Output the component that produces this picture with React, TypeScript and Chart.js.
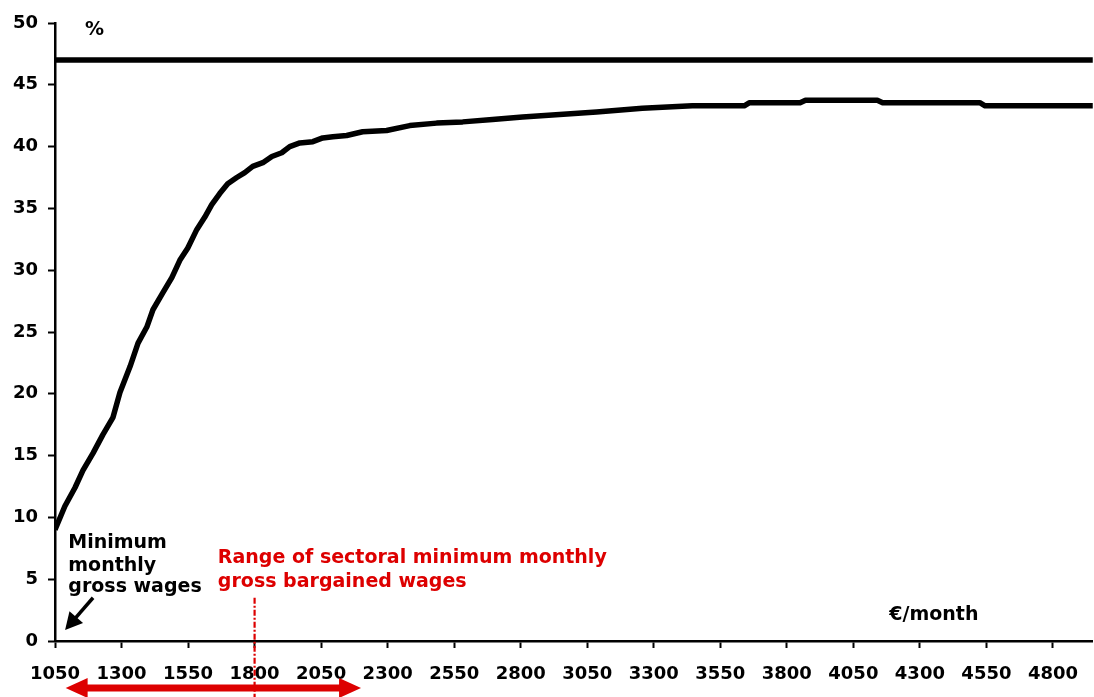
import React, { useEffect, useRef } from 'react';
import { Chart, registerables } from 'chart.js';

Chart.register(...registerables);

// Monthly gross wage (€/month)
const wages = [
  1050, 1087, 1125, 1155, 1193, 1230, 1268, 1294, 1332, 1362, 1395, 1418, 1456, 1489,
  1519, 1549, 1583, 1613, 1639, 1669, 1699, 1733, 1763, 1793, 1831, 1865, 1902, 1932,
  1970, 2019, 2056, 2094, 2146, 2206, 2296, 2383, 2484, 2582, 2694, 2807, 2946, 3085,
  3257, 3445, 3640, 3660, 3850, 3870, 4140, 4160, 4525, 4545, 4950,
];
// Share (%)
const shares = [
  9.0, 10.9, 12.4, 13.8, 15.2, 16.7, 18.1, 20.1, 22.2, 24.1, 25.4, 26.8, 28.2, 29.4,
  30.8, 31.8, 33.3, 34.3, 35.3, 36.2, 37.0, 37.5, 37.9, 38.4, 38.7, 39.2, 39.5, 40.0,
  40.3, 40.4, 40.7, 40.8, 40.9, 41.2, 41.3, 41.7, 41.9, 42.0, 42.2, 42.4, 42.6, 42.8,
  43.1, 43.3, 43.3, 43.55, 43.55, 43.75, 43.75, 43.55, 43.55, 43.3, 43.3,
];
// Horizontal reference level (%)
const referenceLevel = 47;

const xMin = 1050;
const xMax = 4950;
const xTickValues = [1050, 1300, 1550, 1800, 2050, 2300, 2550, 2800, 3050, 3300, 3550, 3800, 4050, 4300, 4550, 4800];
const yTickValues = [0, 5, 10, 15, 20, 25, 30, 35, 40, 45, 50];

// Annotation anchors (data units)
const minWage = 1050;
const sectoralMid = 1800;
const sectoralRange = [1090, 2200];

const FONT = '"DejaVu Sans", Verdana, sans-serif';
const RED = '#dd0000';

function arrowHead(ctx: CanvasRenderingContext2D, tx: number, ty: number, ang: number, len: number, half: number) {
  ctx.beginPath();
  ctx.moveTo(tx, ty);
  ctx.lineTo(tx - len * Math.cos(ang) + half * Math.sin(ang), ty - len * Math.sin(ang) - half * Math.cos(ang));
  ctx.lineTo(tx - len * Math.cos(ang) - half * Math.sin(ang), ty - len * Math.sin(ang) + half * Math.cos(ang));
  ctx.closePath();
  ctx.fill();
}

const annotations = {
  id: 'annotations',
  afterDraw(chart: any) {
    const { ctx, scales } = chart;
    const x = scales.x;
    const y = scales.y;
    const H = chart.height;
    ctx.save();
    ctx.textAlign = 'left';
    ctx.textBaseline = 'alphabetic';
    ctx.font = `bold 19px ${FONT}`;

    // % unit label
    ctx.fillStyle = '#000';
    ctx.fillText('%', x.getPixelForValue(1163), y.getPixelForValue(49.0));

    // €/month unit label
    ctx.fillText('€/month', x.getPixelForValue(4185), y.getPixelForValue(1.7));

    // Minimum wage label
    const mx = x.getPixelForValue(1100);
    ctx.fillText('Minimum', mx, y.getPixelForValue(7.5));
    ctx.fillText('monthly', mx, y.getPixelForValue(5.7));
    ctx.fillText('gross wages', mx, y.getPixelForValue(3.95));

    // Black arrow toward minimum wage
    const ax0 = x.getPixelForValue(1193), ay0 = y.getPixelForValue(3.5);
    const ax1 = x.getPixelForValue(minWage + 38), ay1 = y.getPixelForValue(0.9);
    const ang = Math.atan2(ay1 - ay0, ax1 - ax0);
    ctx.strokeStyle = '#000';
    ctx.lineWidth = 3.5;
    ctx.beginPath();
    ctx.moveTo(ax0, ay0);
    ctx.lineTo(ax1 - 12 * Math.cos(ang), ay1 - 12 * Math.sin(ang));
    ctx.stroke();
    arrowHead(ctx, ax1, ay1, ang, 17, 9);

    // Red annotation text
    ctx.fillStyle = RED;
    const rx = x.getPixelForValue(1662);
    ctx.fillText('Range of sectoral minimum monthly', rx, y.getPixelForValue(6.3));
    ctx.fillText('gross bargained wages', rx, y.getPixelForValue(4.4));

    // Red dash-dot vertical line
    const vx = x.getPixelForValue(sectoralMid);
    ctx.strokeStyle = RED;
    ctx.lineWidth = 2.2;
    ctx.setLineDash([6, 2, 2, 2]);
    ctx.beginPath();
    ctx.moveTo(vx, y.getPixelForValue(3.5));
    ctx.lineTo(vx, H);
    ctx.stroke();
    ctx.setLineDash([]);

    // Red double arrow
    const l = x.getPixelForValue(sectoralRange[0]);
    const r = x.getPixelForValue(sectoralRange[1]);
    const ay = H - 9;
    ctx.lineWidth = 7;
    ctx.beginPath();
    ctx.moveTo(l + 18, ay);
    ctx.lineTo(r - 18, ay);
    ctx.stroke();
    arrowHead(ctx, l, ay, Math.PI, 22, 10);
    arrowHead(ctx, r, ay, 0, 22, 10);

    ctx.restore();
  },
};

export default function App() {
  const ref = useRef<HTMLCanvasElement>(null);

  useEffect(() => {
    if (!ref.current) return;
    const tickFont = { family: FONT, size: 18, weight: 'bold' as const };
    const curve = wages.map((w, i) => ({ x: w, y: shares[i] }));
    const flat = [
      { x: xMin, y: referenceLevel },
      { x: xMax, y: referenceLevel },
    ];
    const chart = new Chart(ref.current, {
      type: 'line',
      data: {
        datasets: [
          {
            data: flat,
            borderColor: '#000',
            borderWidth: 5.5,
            pointRadius: 0,
            tension: 0,
          },
          {
            data: curve,
            borderColor: '#000',
            borderWidth: 5.5,
            pointRadius: 0,
            tension: 0,
            borderJoinStyle: 'round',
          },
        ],
      },
      options: {
        responsive: false,
        maintainAspectRatio: false,
        animation: false,
        layout: { padding: { top: 23, right: 0, left: 0, bottom: 0 } },
        plugins: {
          legend: { display: false },
          tooltip: { enabled: false },
        },
        scales: {
          x: {
            type: 'linear',
            min: xMin,
            max: xMax,
            afterBuildTicks: (s: any) => {
              s.ticks = xTickValues.map((v) => ({ value: v }));
            },
            afterFit: (s: any) => {
              s.height = 56;
            },
            ticks: {
              font: tickFont,
              color: '#000',
              padding: 16,
              maxRotation: 0,
              autoSkip: false,
              callback: (v: any) => String(v),
            },
            grid: {
              display: true,
              drawOnChartArea: false,
              drawTicks: true,
              tickLength: 7,
              tickWidth: 2,
              color: '#000',
            },
            border: { display: true, color: '#000', width: 2.5 },
          },
          y: {
            min: 0,
            max: 50,
            afterBuildTicks: (s: any) => {
              s.ticks = yTickValues.map((v) => ({ value: v }));
            },
            afterFit: (s: any) => {
              s.width = 55;
            },
            ticks: {
              font: tickFont,
              color: '#000',
              padding: 10,
              autoSkip: false,
              callback: (v: any) => String(v),
            },
            grid: {
              display: true,
              drawOnChartArea: false,
              drawTicks: true,
              tickLength: 7,
              tickWidth: 2,
              color: '#000',
            },
            border: { display: true, color: '#000', width: 2.5 },
          },
        },
      },
      plugins: [annotations],
    });
    return () => chart.destroy();
  }, []);

  return (
    <div style={{ position: 'absolute', left: 0, top: 0, width: 1094, height: 697, background: '#fff' }}>
      <canvas ref={ref} width={1094} height={697} style={{ display: 'block' }} />
    </div>
  );
}
